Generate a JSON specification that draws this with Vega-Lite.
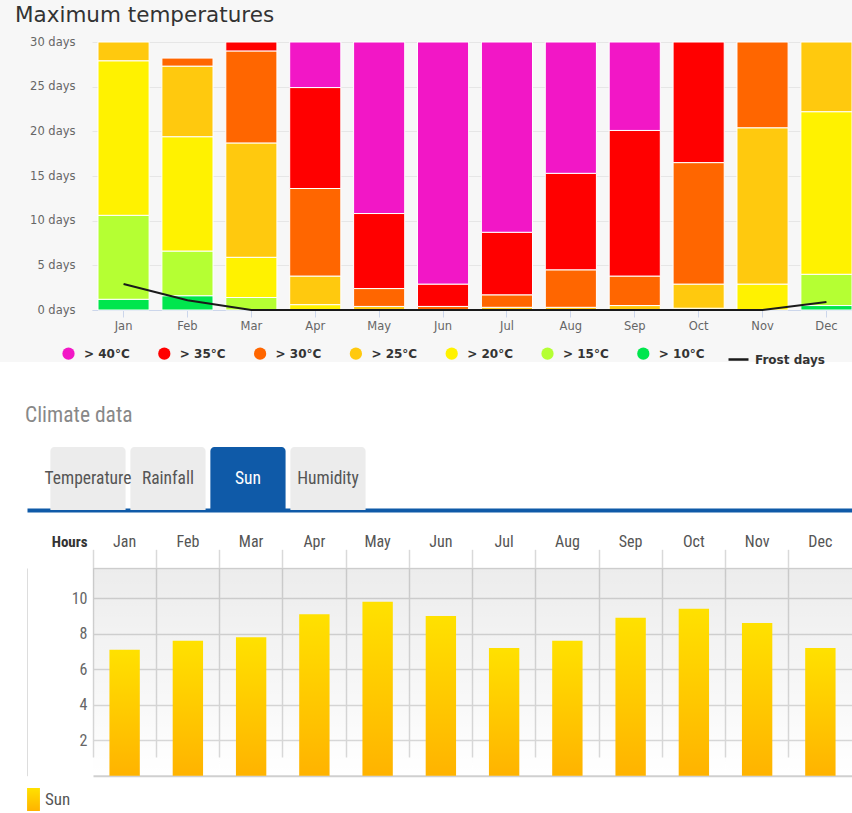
{
  "$schema": "https://vega.github.io/schema/vega-lite/v6.json",
  "padding": 0,
  "background": "white",
  "bounds": "flush",
  "spacing": 85,
  "resolve": {"scale": {"stroke": "independent", "fill": "independent"}, "legend": {"stroke": "independent", "fill": "independent"}},
  "config": {"view": {"stroke": null}, "legend": {"padding": 0}},
  "datasets": {
    "temps": [
      {"month": "Jan", "k": 10, "days": 1.2}, {"month": "Jan", "k": 15, "days": 9.4}, {"month": "Jan", "k": 20, "days": 17.3}, {"month": "Jan", "k": 25, "days": 2.1},
      {"month": "Feb", "k": 10, "days": 1.6}, {"month": "Feb", "k": 15, "days": 5.0}, {"month": "Feb", "k": 20, "days": 12.8}, {"month": "Feb", "k": 25, "days": 7.9}, {"month": "Feb", "k": 30, "days": 0.9},
      {"month": "Mar", "k": 15, "days": 1.4}, {"month": "Mar", "k": 20, "days": 4.5}, {"month": "Mar", "k": 25, "days": 12.8}, {"month": "Mar", "k": 30, "days": 10.3}, {"month": "Mar", "k": 35, "days": 1.0},
      {"month": "Apr", "k": 20, "days": 0.6}, {"month": "Apr", "k": 25, "days": 3.2}, {"month": "Apr", "k": 30, "days": 9.8}, {"month": "Apr", "k": 35, "days": 11.3}, {"month": "Apr", "k": 40, "days": 5.1},
      {"month": "May", "k": 25, "days": 0.4}, {"month": "May", "k": 30, "days": 2.0}, {"month": "May", "k": 35, "days": 8.4}, {"month": "May", "k": 40, "days": 19.2},
      {"month": "Jun", "k": 30, "days": 0.4}, {"month": "Jun", "k": 35, "days": 2.5}, {"month": "Jun", "k": 40, "days": 27.1},
      {"month": "Jul", "k": 25, "days": 0.3}, {"month": "Jul", "k": 30, "days": 1.4}, {"month": "Jul", "k": 35, "days": 7.0}, {"month": "Jul", "k": 40, "days": 21.3},
      {"month": "Aug", "k": 25, "days": 0.3}, {"month": "Aug", "k": 30, "days": 4.2}, {"month": "Aug", "k": 35, "days": 10.8}, {"month": "Aug", "k": 40, "days": 14.7},
      {"month": "Sep", "k": 25, "days": 0.5}, {"month": "Sep", "k": 30, "days": 3.3}, {"month": "Sep", "k": 35, "days": 16.3}, {"month": "Sep", "k": 40, "days": 9.9},
      {"month": "Oct", "k": 20, "days": 0.2}, {"month": "Oct", "k": 25, "days": 2.7}, {"month": "Oct", "k": 30, "days": 13.6}, {"month": "Oct", "k": 35, "days": 13.5},
      {"month": "Nov", "k": 20, "days": 2.9}, {"month": "Nov", "k": 25, "days": 17.5}, {"month": "Nov", "k": 30, "days": 9.6},
      {"month": "Dec", "k": 10, "days": 0.5}, {"month": "Dec", "k": 15, "days": 3.5}, {"month": "Dec", "k": 20, "days": 18.2}, {"month": "Dec", "k": 25, "days": 7.8}
    ],
    "frost": [
      {"month": "Jan", "frost": 2.9}, {"month": "Feb", "frost": 1.1}, {"month": "Mar", "frost": 0}, {"month": "Apr", "frost": 0},
      {"month": "May", "frost": 0}, {"month": "Jun", "frost": 0}, {"month": "Jul", "frost": 0}, {"month": "Aug", "frost": 0},
      {"month": "Sep", "frost": 0}, {"month": "Oct", "frost": 0}, {"month": "Nov", "frost": 0}, {"month": "Dec", "frost": 0.9}
    ],
    "tabs": [{"tab": "Temperature"}, {"tab": "Rainfall"}, {"tab": "Sun"}, {"tab": "Humidity"}],
    "sun": [
      {"month": "Jan", "hours": 7.1}, {"month": "Feb", "hours": 7.6}, {"month": "Mar", "hours": 7.8}, {"month": "Apr", "hours": 9.1},
      {"month": "May", "hours": 9.8}, {"month": "Jun", "hours": 9.0}, {"month": "Jul", "hours": 7.2}, {"month": "Aug", "hours": 7.6},
      {"month": "Sep", "hours": 8.9}, {"month": "Oct", "hours": 9.4}, {"month": "Nov", "hours": 8.6}, {"month": "Dec", "hours": 7.2}
    ]
  },
  "vconcat": [
    {
      "width": 852,
      "height": 362,
      "view": {"fill": "#f7f7f7", "stroke": null},
      "title": {"text": "Maximum temperatures", "anchor": "start", "frame": "group", "dx": 15, "offset": -43, "baseline": "alphabetic", "fontSize": 21.5, "font": "DejaVu Sans", "fontWeight": "normal", "color": "#333333"},
      "layer": [
        {
          "data": {"name": "temps"},
          "mark": {"type": "bar", "stroke": "white", "strokeWidth": 1},
          "encoding": {
            "x": {"field": "month", "type": "nominal", "sort": ["Jan","Feb","Mar","Apr","May","Jun","Jul","Aug","Sep","Oct","Nov","Dec"],
              "scale": {"domain": ["Jan","Feb","Mar","Apr","May","Jun","Jul","Aug","Sep","Oct","Nov","Dec"], "range": [92, 852], "paddingInner": 0.2, "paddingOuter": 0.047, "align": 1},
              "axis": {"orient": "bottom", "offset": -52, "title": null, "labelAngle": 0, "labelFont": "DejaVu Sans", "labelFontSize": 11.5, "labelColor": "#666666", "labelPadding": 3, "tickSize": 7, "tickColor": "#ccd6eb", "domainColor": "#ccd6eb", "grid": false}},
            "y": {"field": "days", "type": "quantitative", "stack": "zero",
              "scale": {"domain": [0, 30], "range": [310, 42], "nice": false},
              "axis": {"orient": "left", "offset": -92, "title": null, "values": [0, 5, 10, 15, 20, 25, 30], "labelExpr": "datum.value + ' days'", "labelFont": "DejaVu Sans", "labelFontSize": 11.5, "labelColor": "#666666", "labelPadding": 17, "ticks": false, "tickSize": 0, "domain": false, "grid": true, "gridColor": "#e6e6e6"}},
            "fill": {"field": "k", "type": "nominal",
              "scale": {"domain": [40, 35, 30, 25, 20, 15, 10], "range": ["#f217c6", "#ff0000", "#ff6600", "#ffc90e", "#fff200", "#b5ff33", "#00e64d"]},
              "legend": {"orient": "none", "legendX": 62, "legendY": 347, "direction": "horizontal", "columns": 7, "title": null, "symbolType": "circle", "symbolSize": 150, "symbolStrokeWidth": 0, "labelExpr": "'> ' + datum.label + '°C'", "labelFont": "DejaVu Sans", "labelFontSize": 12, "labelFontWeight": "bold", "labelColor": "#333333", "labelOffset": 9, "columnPadding": 27.8}},
            "order": {"field": "k", "type": "quantitative"}
          }
        },
        {
          "data": {"name": "frost"},
          "mark": {"type": "line", "strokeWidth": 2},
          "encoding": {
            "x": {"field": "month", "type": "nominal", "sort": ["Jan","Feb","Mar","Apr","May","Jun","Jul","Aug","Sep","Oct","Nov","Dec"], "title": null},
            "y": {"field": "frost", "type": "quantitative", "title": null},
            "stroke": {"datum": "Frost days", "type": "nominal", "scale": {"domain": ["Frost days"], "range": ["#1a1a1a"]},
              "legend": {"orient": "none", "legendX": 727, "legendY": 348, "title": null, "symbolType": "stroke", "symbolSize": 400, "symbolStrokeWidth": 2.5, "labelFont": "DejaVu Sans", "labelFontSize": 12, "labelFontWeight": "bold", "labelColor": "#333333", "labelOffset": 5}}
          }
        }
      ]
    },
    {
      "bounds": "flush",
      "spacing": 2,
      "resolve": {"scale": {"stroke": "independent"}, "legend": {"stroke": "independent"}},
      "vconcat": [
        {
          "width": 852,
          "height": 63,
          "data": {"name": "tabs"},
          "view": {"stroke": null},
          "title": {"text": "Climate data", "anchor": "start", "frame": "group", "dx": 25, "offset": 4, "baseline": "alphabetic", "fontSize": 21.5, "font": "Liberation Sans Narrow, Roboto Condensed, DejaVu Sans Condensed, Arial Narrow, Liberation Sans, sans-serif", "fontWeight": "normal", "color": "#888888"},
          "encoding": {
            "x": {"field": "tab", "type": "nominal", "sort": null,
              "scale": {"domain": ["Temperature", "Rainfall", "Sun", "Humidity", "·1", "·2", "·3", "·4", "·5", "·6"], "range": [27, 852], "paddingInner": 0.06, "paddingOuter": 0.186, "align": 0.785},
              "axis": {"orient": "bottom", "title": null, "labels": false, "ticks": false, "grid": false, "domain": true, "domainColor": "#0f5aa8", "domainWidth": 4}}
          },
          "layer": [
            {
              "mark": {"type": "bar", "cornerRadiusTopLeft": 4, "cornerRadiusTopRight": 4},
              "encoding": {"fill": {"condition": {"test": "datum.tab === 'Sun'", "value": "#0f5aa8"}, "value": "#ececec"}}
            },
            {
              "mark": {"type": "text", "font": "Liberation Sans Narrow, Roboto Condensed, DejaVu Sans Condensed, Arial Narrow, Liberation Sans, sans-serif", "fontSize": 17.5},
              "encoding": {
                "text": {"field": "tab"},
                "fill": {"condition": {"test": "datum.tab === 'Sun'", "value": "#ffffff"}, "value": "#555555"}
              }
            }
          ]
        },
        {
          "width": 852,
          "height": 301,
          "data": {"name": "sun"},
          "view": {"stroke": null},
          "layer": [
            {
              "mark": {"type": "bar", "fill": {"gradient": "linear", "x1": 0, "y1": 0, "x2": 0, "y2": 1, "stops": [{"offset": 0, "color": "rgba(0,0,0,0.075)"}, {"offset": 1, "color": "rgba(0,0,0,0)"}]}},
              "encoding": {
                "x": {"field": "month", "type": "nominal", "sort": ["Jan","Feb","Mar","Apr","May","Jun","Jul","Aug","Sep","Oct","Nov","Dec"],
                  "scale": {"domain": ["Jan","Feb","Mar","Apr","May","Jun","Jul","Aug","Sep","Oct","Nov","Dec"], "range": [93, 852], "paddingInner": 0, "paddingOuter": 0},
                  "axis": {"orient": "top", "offset": -56, "title": null, "labelAngle": 0, "labelFont": "Liberation Sans Narrow, Roboto Condensed, DejaVu Sans Condensed, Arial Narrow, Liberation Sans, sans-serif", "labelFontSize": 16, "labelColor": "#555555", "labelPadding": 27, "labelBaseline": "middle", "ticks": false, "tickSize": 0, "grid": false, "domain": true, "domainColor": "#dddddd", "domainWidth": 1.5}},
                "y": {"datum": 11.7, "type": "quantitative",
                  "scale": {"domain": [0, 11.7], "range": [263.7, 56], "nice": false},
                  "axis": {"orient": "left", "offset": -93, "values": [2, 4, 6, 8, 10], "title": "Hours", "titleAngle": 0, "titleX": -6, "titleY": 29, "titleAlign": "right", "titleBaseline": "middle", "titleFont": "Liberation Sans Narrow, Roboto Condensed, DejaVu Sans Condensed, Arial Narrow, Liberation Sans, sans-serif", "titleFontSize": 15, "titleFontWeight": "bold", "titleColor": "#333333", "labelFont": "Liberation Sans Narrow, Roboto Condensed, DejaVu Sans Condensed, Arial Narrow, Liberation Sans, sans-serif", "labelFontSize": 16, "labelColor": "#666666", "labelPadding": 6, "ticks": false, "tickSize": 0, "domain": false, "grid": true, "gridColor": "#d9d9d9", "gridWidth": 1.5}},
                "y2": {"datum": 0}
              }
            },
            {
              "mark": {"type": "bar", "width": {"band": 0.48}, "strokeWidth": 0, "fill": {"gradient": "linear", "x1": 0, "y1": 0, "x2": 0, "y2": 1, "stops": [{"offset": 0, "color": "#ffe100"}, {"offset": 1, "color": "#ffb300"}]}},
              "encoding": {
                "x": {"field": "month", "type": "nominal", "sort": ["Jan","Feb","Mar","Apr","May","Jun","Jul","Aug","Sep","Oct","Nov","Dec"],
                  "axis": {"orient": "bottom", "offset": -37.3, "title": null, "labels": false, "ticks": false, "tickSize": 0, "domain": true, "domainColor": "#d0d0d0", "domainWidth": 2, "grid": true, "bandPosition": 0, "gridColor": "#d9d9d9", "gridWidth": 1.5}},
                "y": {"field": "hours", "type": "quantitative",
                  "axis": {"orient": "left", "offset": -27, "title": null, "labels": false, "ticks": false, "grid": false, "domain": true, "domainColor": "#dddddd", "domainWidth": 1}},
                "stroke": {"datum": "Sun", "type": "nominal", "scale": {"domain": ["Sun"], "range": ["#ffc800"]},
                  "legend": {"orient": "none", "legendX": 22, "legendY": 276, "title": null, "symbolType": "M-0.56,-1L0.56,-1L0.56,1L-0.56,1Z", "symbolSize": 529, "symbolStrokeWidth": 0, "labelFont": "Liberation Sans Narrow, Roboto Condensed, DejaVu Sans Condensed, Arial Narrow, Liberation Sans, sans-serif", "labelFontSize": 17, "labelColor": "#555555", "labelOffset": 0,
                    "encode": {"symbols": {"update": {"fill": {"value": {"gradient": "linear", "x1": 0, "y1": 0, "x2": 0, "y2": 1, "stops": [{"offset": 0, "color": "#ffe100"}, {"offset": 1, "color": "#ffb300"}]}}, "stroke": {"value": "transparent"}}}}}}
              }
            }
          ],
          "resolve": {"axis": {"x": "independent", "y": "independent"}}
        }
      ]
    }
  ]
}
